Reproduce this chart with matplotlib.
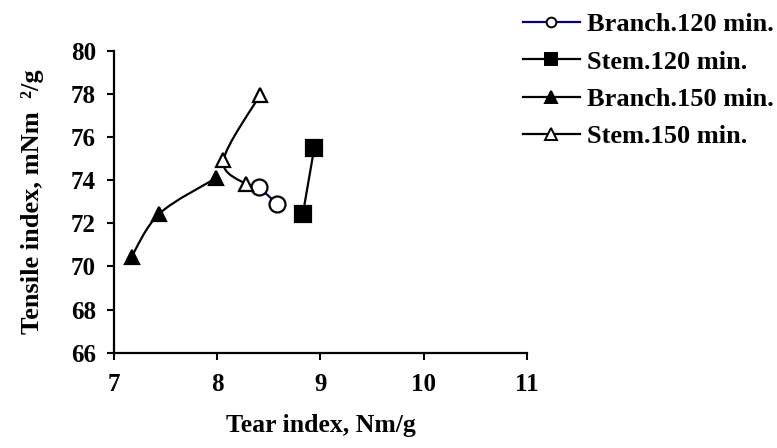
import numpy as np
import matplotlib
matplotlib.use("Agg")
import matplotlib.pyplot as plt
from matplotlib.path import Path
from matplotlib.patches import PathPatch
from matplotlib.lines import Line2D

plt.rcParams['font.family'] = ['Liberation Serif', 'DejaVu Serif']
plt.rcParams['font.weight'] = 'bold'

# Data (tear index, tensile index)
branch120_x = [8.40, 8.58]
branch120_y = [73.7, 72.9]
stem120_x = [8.83, 8.94]
stem120_y = [72.45, 75.5]
branch150_x = [7.17, 7.44, 7.99]
branch150_y = [70.45, 72.45, 74.1]
stem150_x = [8.28, 8.06, 8.415]
stem150_y = [73.8, 74.92, 77.95]

labels = ["Branch.120 min.", "Stem.120 min.", "Branch.150 min.", "Stem.150 min."]
xticks = [7, 8, 9, 10, 11]
yticks = [66, 68, 70, 72, 74, 76, 78, 80]

fig = plt.figure(figsize=(7.77, 4.48), dpi=100)
ax = fig.add_axes([0.1467, 0.2127, 0.5315, 0.674])


def smooth_path(xs, ys):
    pts = np.column_stack([xs, ys]).astype(float)
    n = len(pts)
    verts = [pts[0]]
    codes = [Path.MOVETO]
    for i in range(n - 1):
        p0 = pts[i - 1] if i > 0 else pts[i]
        p1 = pts[i]
        p2 = pts[i + 1]
        p3 = pts[i + 2] if i + 2 < n else pts[i + 1]
        c1 = p1 + (p2 - p0) / 6.0
        c2 = p2 - (p3 - p1) / 6.0
        verts += [c1, c2, p2]
        codes += [Path.CURVE4] * 3
    return Path(verts, codes)


series = [
    (branch120_x, branch120_y, '#000080', 'o', 'white', 11.5, 7),
    (stem120_x, stem120_y, 'black', 's', 'black', 12, 8),
    (branch150_x, branch150_y, 'black', '^', 'black', 10, 9),
    (stem150_x, stem150_y, 'black', '^', 'white', 10, 9),
]

handles = []
for xs, ys, lc, mk, mfc, ms, lms in series:
    patch = PathPatch(smooth_path(xs, ys), facecolor='none', edgecolor=lc,
                      lw=1.6, zorder=2)
    ax.add_patch(patch)
    ax.plot(xs, ys, linestyle='none', marker=mk, markersize=ms,
            markerfacecolor=mfc, markeredgecolor='black', markeredgewidth=1.6,
            zorder=3)
    handles.append(Line2D([], [], color=lc, lw=1.6, marker=mk, markersize=lms,
                          markerfacecolor=mfc, markeredgecolor='black',
                          markeredgewidth=1.4))

ax.set_xlim(7, 11)
ax.set_ylim(66, 80)
ax.set_xticks(xticks)
ax.set_yticks(yticks)
ax.tick_params(axis='both', direction='out', length=5, width=1.5,
               labelsize=18)
ax.tick_params(axis='y', pad=8)
ax.tick_params(axis='x', pad=9.7)
for lbl in ax.get_xticklabels() + ax.get_yticklabels():
    lbl.set_fontweight('bold')
ax.spines['top'].set_visible(False)
ax.spines['right'].set_visible(False)
ax.spines['left'].set_linewidth(1.6)
ax.spines['bottom'].set_linewidth(1.6)

ax.set_xlabel("Tear index, Nm/g", fontsize=18.5, fontweight='bold', labelpad=13)
ax.set_ylabel("Tensile index, mNm  \u00b2/g", fontsize=19, fontweight='bold',
              labelpad=19)

fig.legend(handles, labels, loc='upper left', bbox_to_anchor=(0.673, 0.971),
           frameon=False, prop={'weight': 'bold', 'size': 19},
           handlelength=2.16, handletextpad=0.27, labelspacing=0.52,
           borderpad=0.0, borderaxespad=0.0)

fig.savefig("out.png", dpi=100)
